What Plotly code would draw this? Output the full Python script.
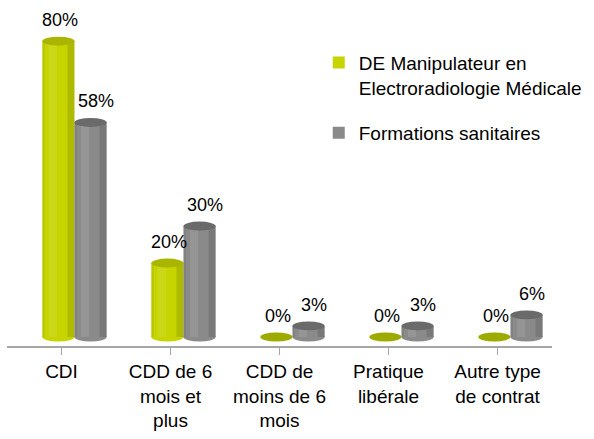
import plotly.graph_objects as go

categories = ["CDI", "CDD de 6<br>mois et<br>plus", "CDD de<br>moins de 6<br>mois",
              "Pratique<br>libérale", "Autre type<br>de contrat"]
series_names = ["DE Manipulateur en<br>Electroradiologie Médicale", "Formations sanitaires"]
manip_values = [80, 20, 0, 0, 0]
formation_values = [58, 30, 3, 3, 6]

FONT = "Liberation Sans"
BODY = ["#C6D400", "#8A8A8A"]
CAP = ["#A9B500", "#6A6A6A"]
BASE_ZERO = ["#9DAA00", "#6A6A6A"]
BAR_W = 0.295
OFFSETS = [-0.176, 0.119]
LABEL_DX = [2, 5]
CAP_H = 1.2  # half height of the cylinder ellipse, in y units

fig = go.Figure()
shapes = []
annotations = []
for s, (name, vals) in enumerate(zip(series_names, [manip_values, formation_values])):
    fig.add_trace(go.Bar(
        x=list(range(len(categories))), y=vals, name=name,
        offset=OFFSETS[s], width=BAR_W,
        marker=dict(color=BODY[s], line=dict(width=0)),
        legendgroup=str(s),
    ))
    for i, v in enumerate(vals):
        x0 = i + OFFSETS[s]
        x1 = x0 + BAR_W
        w = x1 - x0
        # bottom rim of the cylinder
        shapes.append(dict(type="circle", xref="x", yref="y", x0=x0, x1=x1,
                           y0=-CAP_H, y1=CAP_H, layer="below",
                           fillcolor=BASE_ZERO[s] if v == 0 else BODY[s], line=dict(width=0)))
        if v > 0:
            # soft shading strips to suggest a cylinder
            shapes.append(dict(type="rect", xref="x", yref="y", x0=x1 - 0.22 * w, x1=x1,
                               y0=0, y1=v, layer="above",
                               fillcolor="rgba(0,0,0,0.12)", line=dict(width=0)))
            shapes.append(dict(type="rect", xref="x", yref="y", x0=x0, x1=x0 + 0.08 * w,
                               y0=0, y1=v, layer="above",
                               fillcolor="rgba(0,0,0,0.06)", line=dict(width=0)))
            shapes.append(dict(type="rect", xref="x", yref="y", x0=x0 + 0.2 * w, x1=x0 + 0.45 * w,
                               y0=0, y1=v, layer="above",
                               fillcolor="rgba(255,255,255,0.10)", line=dict(width=0)))
            shapes.append(dict(type="circle", xref="x", yref="y", x0=x0, x1=x1,
                               y0=v - CAP_H, y1=v + CAP_H, layer="above",
                               fillcolor=CAP[s], line=dict(width=0)))
        annotations.append(dict(x=(x0 + x1) / 2, y=v, xref="x", yref="y",
                                text=f"{v}%", showarrow=False,
                                xshift=LABEL_DX[s], yshift=21,
                                font=dict(size=18, color="#000000", family=FONT)))

fig.update_layout(
    width=594, height=439,
    margin=dict(l=7, r=31, t=10, b=93),
    paper_bgcolor="white", plot_bgcolor="white",
    font=dict(family=FONT, size=18, color="#000000"),
    barmode="overlay",
    shapes=shapes,
    annotations=annotations,
    showlegend=True,
    legend=dict(x=0.572, y=0.900, xanchor="left", yanchor="top",
                font=dict(size=19, family=FONT), tracegroupgap=18,
                valign="top", bgcolor="rgba(0,0,0,0)", itemwidth=30),
    xaxis=dict(
        tickmode="array", tickvals=list(range(len(categories))), ticktext=categories,
        range=[-0.5, 4.5], showgrid=False, zeroline=False,
        showline=True, linecolor="#A6A6A6", linewidth=2,
        ticks="outside", ticklen=7, tickcolor="#A6A6A6", tickwidth=1,
        tickfont=dict(size=19, family=FONT),
    ),
    yaxis=dict(range=[-2.43, 88.4], visible=False, showgrid=False, zeroline=False),
)

# the page body has a default 8px margin; drop it so the chart fills the window
fig.write_html("out.html", config={"displayModeBar": False},
               post_script="document.body.style.margin='0';")
